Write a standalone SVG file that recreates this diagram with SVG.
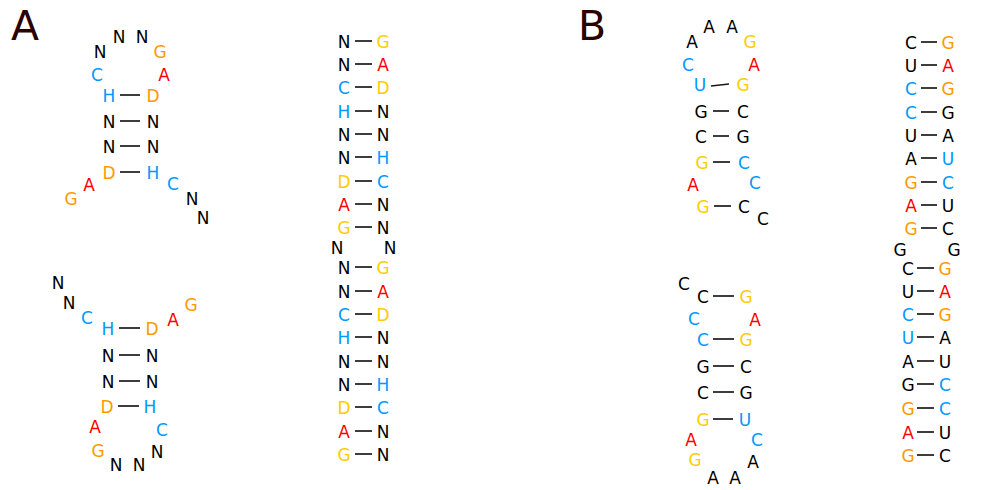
<svg xmlns="http://www.w3.org/2000/svg" width="1003" height="490" viewBox="0 0 1003 490">
  <style>
    text { font-family: "DejaVu Sans", "Liberation Sans", sans-serif; font-size: 17px; text-anchor: middle; }
    .k { fill: #000000; }
    .b { fill: #0099ff; }
    .r { fill: #ff0000; }
    .o { fill: #ff9900; }
    .y { fill: #ffcc00; }
    .lbl { font-size: 41px; fill: #2b0000; text-anchor: start; }
    .bond { stroke: #1a1a1a; stroke-width: 1.7; fill: none; }
  </style>

  <!-- panel labels -->
  <text class="lbl" x="11" y="40">A</text>
  <text class="lbl" x="578" y="40">B</text>

  <!-- base-pair bonds -->
  <g id="connectors">
    <!-- A, upper hairpin -->
    <line class="bond" x1="120" y1="95" x2="140" y2="95"/>
    <line class="bond" x1="120" y1="121" x2="140" y2="121"/>
    <line class="bond" x1="120" y1="146" x2="140" y2="146"/>
    <line class="bond" x1="120" y1="172" x2="140" y2="172"/>
    <!-- A, lower hairpin -->
    <line class="bond" x1="119" y1="328" x2="140" y2="328"/>
    <line class="bond" x1="119" y1="355" x2="140" y2="355"/>
    <line class="bond" x1="119" y1="381" x2="140" y2="381"/>
    <line class="bond" x1="118" y1="406" x2="139" y2="406"/>
    <!-- A, duplex column -->
    <line class="bond" x1="355" y1="41" x2="372" y2="41"/>
    <line class="bond" x1="355" y1="64" x2="372" y2="64"/>
    <line class="bond" x1="355" y1="87" x2="372" y2="87"/>
    <line class="bond" x1="355" y1="111" x2="372" y2="111"/>
    <line class="bond" x1="355" y1="134" x2="372" y2="134"/>
    <line class="bond" x1="355" y1="157" x2="372" y2="157"/>
    <line class="bond" x1="355" y1="181" x2="372" y2="181"/>
    <line class="bond" x1="355" y1="204" x2="372" y2="204"/>
    <line class="bond" x1="355" y1="227" x2="372" y2="227"/>
    <line class="bond" x1="355" y1="267" x2="372" y2="267"/>
    <line class="bond" x1="355" y1="291" x2="372" y2="291"/>
    <line class="bond" x1="355" y1="314" x2="372" y2="314"/>
    <line class="bond" x1="355" y1="337" x2="372" y2="337"/>
    <line class="bond" x1="355" y1="361" x2="372" y2="361"/>
    <line class="bond" x1="355" y1="384" x2="372" y2="384"/>
    <line class="bond" x1="355" y1="407" x2="372" y2="407"/>
    <line class="bond" x1="355" y1="431" x2="372" y2="431"/>
    <line class="bond" x1="355" y1="454" x2="372" y2="454"/>
    <!-- B, upper hairpin -->
    <line class="bond" x1="711" y1="86" x2="729" y2="84"/>
    <line class="bond" x1="713" y1="111" x2="729" y2="111"/>
    <line class="bond" x1="713" y1="136" x2="729" y2="136"/>
    <line class="bond" x1="713" y1="162" x2="730" y2="162"/>
    <line class="bond" x1="714" y1="206" x2="731" y2="206"/>
    <!-- B, lower hairpin -->
    <line class="bond" x1="713" y1="296" x2="734" y2="296"/>
    <line class="bond" x1="713" y1="339" x2="734" y2="339"/>
    <line class="bond" x1="713" y1="366" x2="734" y2="366"/>
    <line class="bond" x1="713" y1="392" x2="734" y2="392"/>
    <line class="bond" x1="713" y1="419" x2="733" y2="419"/>
    <!-- B, duplex column -->
    <line class="bond" x1="921" y1="42" x2="937" y2="42"/>
    <line class="bond" x1="921" y1="65" x2="937" y2="65"/>
    <line class="bond" x1="921" y1="88" x2="937" y2="88"/>
    <line class="bond" x1="921" y1="112" x2="937" y2="112"/>
    <line class="bond" x1="921" y1="135" x2="937" y2="135"/>
    <line class="bond" x1="921" y1="158" x2="937" y2="158"/>
    <line class="bond" x1="921" y1="182" x2="937" y2="182"/>
    <line class="bond" x1="921" y1="205" x2="937" y2="205"/>
    <line class="bond" x1="921" y1="228" x2="937" y2="228"/>
    <line class="bond" x1="917" y1="268" x2="934" y2="268"/>
    <line class="bond" x1="917" y1="291" x2="934" y2="291"/>
    <line class="bond" x1="917" y1="314" x2="934" y2="314"/>
    <line class="bond" x1="917" y1="337" x2="934" y2="337"/>
    <line class="bond" x1="917" y1="361" x2="934" y2="361"/>
    <line class="bond" x1="917" y1="384" x2="934" y2="384"/>
    <line class="bond" x1="917" y1="408" x2="934" y2="408"/>
    <line class="bond" x1="917" y1="432" x2="934" y2="432"/>
    <line class="bond" x1="917" y1="455" x2="934" y2="455"/>
  </g>

  <!-- A: upper hairpin -->
  <g id="a-hairpin-top">
    <g id="a1-1"><text class="k" x="100" y="58">N</text></g>
    <g id="a1-2"><text class="k" x="119" y="43">N</text></g>
    <g id="a1-3"><text class="k" x="142" y="43">N</text></g>
    <g id="a1-4"><text class="o" x="160" y="58">G</text></g>
    <g id="a1-5"><text class="b" x="97" y="81">C</text></g>
    <g id="a1-6"><text class="r" x="164" y="81">A</text></g>
    <g id="a1-7"><text class="b" x="109" y="102">H</text></g>
    <g id="a1-8"><text class="o" x="153" y="102">D</text></g>
    <g id="a1-9"><text class="k" x="109" y="128">N</text></g>
    <g id="a1-10"><text class="k" x="153" y="128">N</text></g>
    <g id="a1-11"><text class="k" x="109" y="153">N</text></g>
    <g id="a1-12"><text class="k" x="153" y="153">N</text></g>
    <g id="a1-13"><text class="o" x="109" y="179">D</text></g>
    <g id="a1-14"><text class="b" x="153" y="179">H</text></g>
    <g id="a1-15"><text class="r" x="89" y="191">A</text></g>
    <g id="a1-16"><text class="o" x="71" y="205">G</text></g>
    <g id="a1-17"><text class="b" x="173" y="190">C</text></g>
    <g id="a1-18"><text class="k" x="192" y="205">N</text></g>
    <g id="a1-19"><text class="k" x="203" y="224">N</text></g>
  </g>

  <!-- A: lower hairpin -->
  <g id="a-hairpin-bottom">
    <g id="a2-1"><text class="k" x="58" y="289">N</text></g>
    <g id="a2-2"><text class="k" x="69" y="309">N</text></g>
    <g id="a2-3"><text class="b" x="87" y="324">C</text></g>
    <g id="a2-4"><text class="b" x="108" y="335">H</text></g>
    <g id="a2-5"><text class="o" x="152" y="335">D</text></g>
    <g id="a2-6"><text class="r" x="173" y="326">A</text></g>
    <g id="a2-7"><text class="o" x="191" y="311">G</text></g>
    <g id="a2-8"><text class="k" x="108" y="362">N</text></g>
    <g id="a2-9"><text class="k" x="152" y="362">N</text></g>
    <g id="a2-10"><text class="k" x="108" y="388">N</text></g>
    <g id="a2-11"><text class="k" x="152" y="388">N</text></g>
    <g id="a2-12"><text class="o" x="107" y="413">D</text></g>
    <g id="a2-13"><text class="b" x="150" y="413">H</text></g>
    <g id="a2-14"><text class="r" x="95" y="433">A</text></g>
    <g id="a2-15"><text class="b" x="162" y="436">C</text></g>
    <g id="a2-16"><text class="o" x="98" y="457">G</text></g>
    <g id="a2-17"><text class="k" x="116" y="471">N</text></g>
    <g id="a2-18"><text class="k" x="139" y="471">N</text></g>
    <g id="a2-19"><text class="k" x="157" y="458">N</text></g>
  </g>

  <!-- A: duplex column -->
  <g id="a-duplex">
    <g id="a3-1"><text class="k" x="344" y="48">N</text></g>
    <g id="a3-2"><text class="y" x="383" y="48">G</text></g>
    <g id="a3-3"><text class="k" x="344" y="71">N</text></g>
    <g id="a3-4"><text class="r" x="383" y="71">A</text></g>
    <g id="a3-5"><text class="b" x="344" y="94">C</text></g>
    <g id="a3-6"><text class="y" x="383" y="94">D</text></g>
    <g id="a3-7"><text class="b" x="344" y="118">H</text></g>
    <g id="a3-8"><text class="k" x="383" y="118">N</text></g>
    <g id="a3-9"><text class="k" x="344" y="141">N</text></g>
    <g id="a3-10"><text class="k" x="383" y="141">N</text></g>
    <g id="a3-11"><text class="k" x="344" y="164">N</text></g>
    <g id="a3-12"><text class="b" x="383" y="164">H</text></g>
    <g id="a3-13"><text class="y" x="344" y="188">D</text></g>
    <g id="a3-14"><text class="b" x="383" y="188">C</text></g>
    <g id="a3-15"><text class="r" x="344" y="211">A</text></g>
    <g id="a3-16"><text class="k" x="383" y="211">N</text></g>
    <g id="a3-17"><text class="y" x="344" y="234">G</text></g>
    <g id="a3-18"><text class="k" x="383" y="234">N</text></g>
    <g id="a3-19"><text class="k" x="337" y="254">N</text></g>
    <g id="a3-20"><text class="k" x="390" y="254">N</text></g>
    <g id="a3-21"><text class="k" x="344" y="274">N</text></g>
    <g id="a3-22"><text class="y" x="383" y="274">G</text></g>
    <g id="a3-23"><text class="k" x="344" y="298">N</text></g>
    <g id="a3-24"><text class="r" x="383" y="298">A</text></g>
    <g id="a3-25"><text class="b" x="344" y="321">C</text></g>
    <g id="a3-26"><text class="y" x="383" y="321">D</text></g>
    <g id="a3-27"><text class="b" x="344" y="344">H</text></g>
    <g id="a3-28"><text class="k" x="383" y="344">N</text></g>
    <g id="a3-29"><text class="k" x="344" y="368">N</text></g>
    <g id="a3-30"><text class="k" x="383" y="368">N</text></g>
    <g id="a3-31"><text class="k" x="344" y="391">N</text></g>
    <g id="a3-32"><text class="b" x="383" y="391">H</text></g>
    <g id="a3-33"><text class="y" x="344" y="414">D</text></g>
    <g id="a3-34"><text class="b" x="383" y="414">C</text></g>
    <g id="a3-35"><text class="r" x="344" y="438">A</text></g>
    <g id="a3-36"><text class="k" x="383" y="438">N</text></g>
    <g id="a3-37"><text class="y" x="344" y="461">G</text></g>
    <g id="a3-38"><text class="k" x="383" y="461">N</text></g>
  </g>

  <!-- B: upper hairpin -->
  <g id="b-hairpin-top">
    <g id="b1-1"><text class="k" x="692" y="48">A</text></g>
    <g id="b1-2"><text class="k" x="709" y="33">A</text></g>
    <g id="b1-3"><text class="k" x="732" y="33">A</text></g>
    <g id="b1-4"><text class="y" x="750" y="48">G</text></g>
    <g id="b1-5"><text class="b" x="688" y="71">C</text></g>
    <g id="b1-6"><text class="r" x="754" y="71">A</text></g>
    <g id="b1-7"><text class="b" x="700" y="91">U</text></g>
    <g id="b1-8"><text class="y" x="743" y="91">G</text></g>
    <g id="b1-9"><text class="k" x="701" y="118">G</text></g>
    <g id="b1-10"><text class="k" x="743" y="118">C</text></g>
    <g id="b1-11"><text class="k" x="701" y="143">C</text></g>
    <g id="b1-12"><text class="k" x="743" y="143">G</text></g>
    <g id="b1-13"><text class="y" x="702" y="169">G</text></g>
    <g id="b1-14"><text class="b" x="744" y="169">C</text></g>
    <g id="b1-15"><text class="r" x="693" y="191">A</text></g>
    <g id="b1-16"><text class="b" x="755" y="189">C</text></g>
    <g id="b1-17"><text class="y" x="703" y="213">G</text></g>
    <g id="b1-18"><text class="k" x="744" y="213">C</text></g>
    <g id="b1-19"><text class="k" x="763" y="225">C</text></g>
  </g>

  <!-- B: lower hairpin -->
  <g id="b-hairpin-bottom">
    <g id="b2-1"><text class="k" x="684" y="290">C</text></g>
    <g id="b2-2"><text class="k" x="703" y="303">C</text></g>
    <g id="b2-3"><text class="y" x="746" y="303">G</text></g>
    <g id="b2-4"><text class="b" x="694" y="325">C</text></g>
    <g id="b2-5"><text class="r" x="755" y="326">A</text></g>
    <g id="b2-6"><text class="b" x="703" y="346">C</text></g>
    <g id="b2-7"><text class="y" x="746" y="346">G</text></g>
    <g id="b2-8"><text class="k" x="703" y="373">G</text></g>
    <g id="b2-9"><text class="k" x="746" y="373">C</text></g>
    <g id="b2-10"><text class="k" x="703" y="399">C</text></g>
    <g id="b2-11"><text class="k" x="746" y="399">G</text></g>
    <g id="b2-12"><text class="y" x="703" y="426">G</text></g>
    <g id="b2-13"><text class="b" x="745" y="426">U</text></g>
    <g id="b2-14"><text class="r" x="691" y="446">A</text></g>
    <g id="b2-15"><text class="b" x="757" y="446">C</text></g>
    <g id="b2-16"><text class="y" x="695" y="466">G</text></g>
    <g id="b2-17"><text class="k" x="713" y="484">A</text></g>
    <g id="b2-18"><text class="k" x="735" y="484">A</text></g>
    <g id="b2-19"><text class="k" x="753" y="468">A</text></g>
  </g>

  <!-- B: duplex column -->
  <g id="b-duplex">
    <g id="b3-1"><text class="k" x="911" y="49">C</text></g>
    <g id="b3-2"><text class="o" x="948" y="49">G</text></g>
    <g id="b3-3"><text class="k" x="911" y="72">U</text></g>
    <g id="b3-4"><text class="r" x="948" y="72">A</text></g>
    <g id="b3-5"><text class="b" x="911" y="95">C</text></g>
    <g id="b3-6"><text class="o" x="948" y="95">G</text></g>
    <g id="b3-7"><text class="b" x="911" y="119">C</text></g>
    <g id="b3-8"><text class="k" x="948" y="119">G</text></g>
    <g id="b3-9"><text class="k" x="911" y="142">U</text></g>
    <g id="b3-10"><text class="k" x="948" y="142">A</text></g>
    <g id="b3-11"><text class="k" x="911" y="165">A</text></g>
    <g id="b3-12"><text class="b" x="948" y="165">U</text></g>
    <g id="b3-13"><text class="o" x="911" y="189">G</text></g>
    <g id="b3-14"><text class="b" x="948" y="189">C</text></g>
    <g id="b3-15"><text class="r" x="911" y="212">A</text></g>
    <g id="b3-16"><text class="k" x="948" y="212">U</text></g>
    <g id="b3-17"><text class="o" x="911" y="235">G</text></g>
    <g id="b3-18"><text class="k" x="948" y="235">C</text></g>
    <g id="b3-19"><text class="k" x="900" y="256">G</text></g>
    <g id="b3-20"><text class="k" x="954" y="256">G</text></g>
    <g id="b3-21"><text class="k" x="908" y="275">C</text></g>
    <g id="b3-22"><text class="o" x="945" y="275">G</text></g>
    <g id="b3-23"><text class="k" x="908" y="298">U</text></g>
    <g id="b3-24"><text class="r" x="945" y="298">A</text></g>
    <g id="b3-25"><text class="b" x="908" y="321">C</text></g>
    <g id="b3-26"><text class="o" x="945" y="321">G</text></g>
    <g id="b3-27"><text class="b" x="908" y="344">U</text></g>
    <g id="b3-28"><text class="k" x="945" y="344">A</text></g>
    <g id="b3-29"><text class="k" x="908" y="368">A</text></g>
    <g id="b3-30"><text class="k" x="945" y="368">U</text></g>
    <g id="b3-31"><text class="k" x="908" y="391">G</text></g>
    <g id="b3-32"><text class="b" x="945" y="391">C</text></g>
    <g id="b3-33"><text class="o" x="908" y="415">G</text></g>
    <g id="b3-34"><text class="b" x="945" y="415">C</text></g>
    <g id="b3-35"><text class="r" x="908" y="439">A</text></g>
    <g id="b3-36"><text class="k" x="945" y="439">U</text></g>
    <g id="b3-37"><text class="o" x="908" y="462">G</text></g>
    <g id="b3-38"><text class="k" x="945" y="462">C</text></g>
  </g>
</svg>
